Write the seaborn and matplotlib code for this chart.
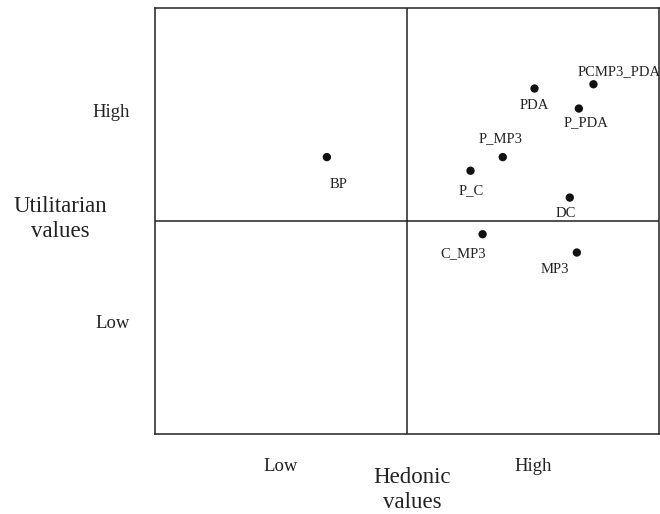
import pandas as pd
import matplotlib
matplotlib.use("Agg")
import matplotlib.pyplot as plt
import seaborn as sns

# positioning of products on the two value dimensions (0-10 scale, 5 = split)
products = ['BP', 'PDA', 'PCMP3_PDA', 'P_PDA', 'P_MP3', 'P_C', 'DC', 'C_MP3', 'MP3']
hedonic = [3.41, 7.53, 8.70, 8.41, 6.90, 6.26, 8.23, 6.50, 8.37]
utilitarian = [6.50, 8.11, 8.21, 7.64, 6.50, 6.18, 5.55, 4.69, 4.26]
level_labels = ['Low', 'High']

# where each label sits relative to its dot (pixels), and alignment
label_offsets = {
    'BP': (12, -31, 'center'),
    'PDA': (0, -20, 'center'),
    'PCMP3_PDA': (-16, 9, 'left'),
    'P_PDA': (7, -18, 'center'),
    'P_MP3': (-2, 15, 'center'),
    'P_C': (1, -23, 'center'),
    'DC': (-4, -19, 'center'),
    'C_MP3': (-19, -23, 'center'),
    'MP3': (-22, -20, 'center'),
}

df = pd.DataFrame({'product': products, 'hedonic': hedonic, 'utilitarian': utilitarian})

sns.set_style("white")
plt.rcParams['font.family'] = ['Liberation Serif', 'DejaVu Serif']

fig = plt.figure(figsize=(6.6, 5.14), dpi=100)
ax = fig.add_axes([155 / 660, 80 / 514, 504 / 660, 426 / 514])

sns.scatterplot(data=df, x='hedonic', y='utilitarian', color='#111111', s=36,
                edgecolor='none', ax=ax, legend=False)

for _, row in df.iterrows():
    dx, dy, ha = label_offsets[row['product']]
    ax.annotate(row['product'], (row['hedonic'], row['utilitarian']),
                xytext=(dx, dy), textcoords='offset pixels', ha=ha, va='baseline',
                fontsize=10.5, color='#222222', annotation_clip=False)

# quadrant dividers
ax.axvline(5, color='#222222', lw=1.1)
ax.axhline(5, color='#222222', lw=1.1)

ax.set_xlim(0, 10)
ax.set_ylim(0, 10)
for sp in ax.spines.values():
    sp.set_visible(True)
    sp.set_color('#222222')
    sp.set_linewidth(1.1)

ax.set_xticks([2.5, 7.5])
ax.set_xticklabels(level_labels)
ax.set_yticks([2.65, 7.6])
ax.set_yticklabels(level_labels)
ax.tick_params(axis='x', length=0, pad=17, labelsize=13.5, labelcolor='#222222')
ax.tick_params(axis='y', length=0, pad=18, labelsize=13.5, labelcolor='#222222')

ax.set_xlabel('Hedonic\nvalues', fontsize=16.5, color='#222222', linespacing=1.25,
              ha='center', va='center')
ax.xaxis.set_label_coords(0.51, -0.132)
ax.set_ylabel('Utilitarian\nvalues', fontsize=16.5, color='#222222', linespacing=1.25,
              rotation=0, ha='center', va='center')
ax.yaxis.set_label_coords(-0.188, 0.505)

fig.savefig('out.png', dpi=100)
plt.close(fig)
